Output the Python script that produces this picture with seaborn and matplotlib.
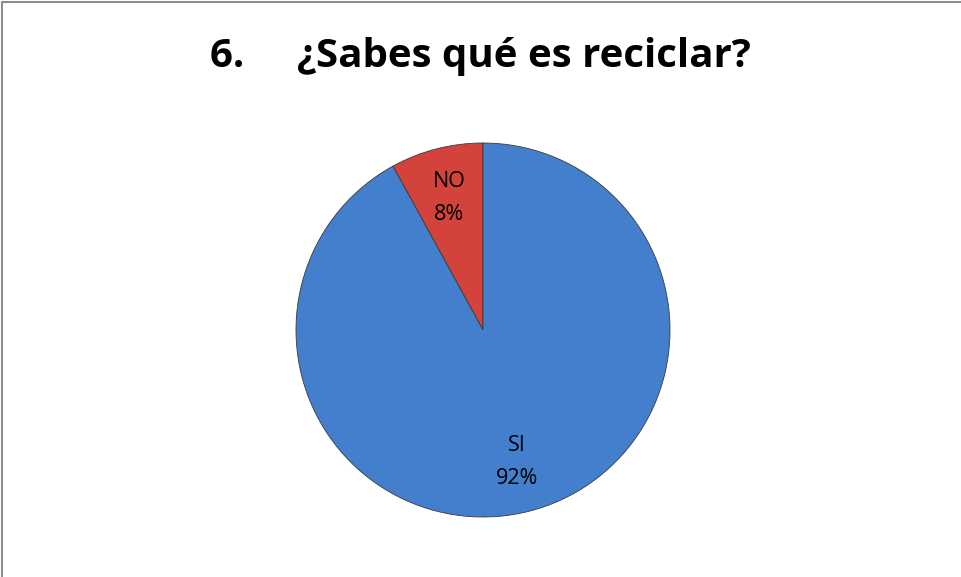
import matplotlib
matplotlib.use('Agg')
import matplotlib.pyplot as plt
import seaborn as sns
from matplotlib.lines import Line2D

# datos de la encuesta
categorias = ['NO', 'SI']
porcentajes = [8, 92]
colores = ['#d4433b', '#437fcc']
titulo = '6.     ¿Sabes qué es reciclar?'

sns.set_theme(style='white')
plt.rcParams['font.family'] = ['Open Sans', 'DejaVu Sans']

fig = plt.figure(figsize=(9.61, 5.77), dpi=100)

# marco del gráfico (arriba e izquierda)
fig.add_artist(Line2D([0.002, 1.0], [0.996, 0.996], color='#8c8c8c', lw=1.5, transform=fig.transFigure))
fig.add_artist(Line2D([0.002, 0.002], [0.0, 0.996], color='#8c8c8c', lw=1.5, transform=fig.transFigure))

fig.text(0.5, 1 - 57 / 577, titulo, ha='center', va='center', fontsize=29, fontweight='bold', color='black')

# pie en su propio eje
r = 187 / 577
cx, cy = 483 / 961, 1 - 330 / 577
pax = fig.add_axes([cx - r * 577 / 961, cy - r, 2 * r * 577 / 961, 2 * r])
etiquetas = [f'{c}\n{p}%' for c, p in zip(categorias, porcentajes)]
wedges, texts = pax.pie(porcentajes, labels=etiquetas, colors=colores, startangle=90,
                        counterclock=True, labeldistance=0.73, frame=False,
                        wedgeprops=dict(edgecolor='#3a3a3a', linewidth=0.6),
                        textprops=dict(fontsize=15.5, ha='center', va='center',
                                       linespacing=1.75, color='black'))
pax.set_xlim(-1, 1)
pax.set_ylim(-1, 1)
pax.set_aspect('equal')
pax.axis('off')

fig.savefig('out.png', dpi=100)
